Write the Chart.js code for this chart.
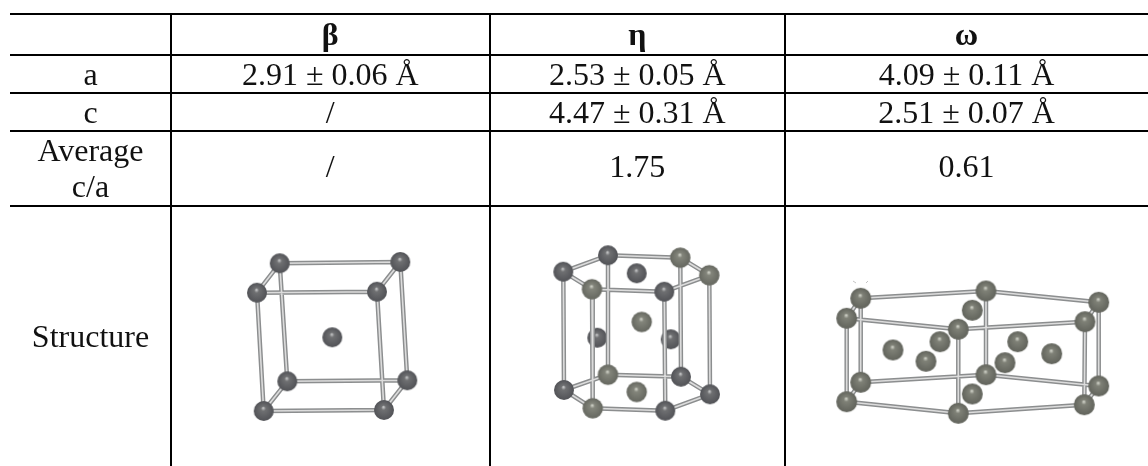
<!DOCTYPE html>
<html lang="en">
<head>
    <meta charset="UTF-8">
    <title>Structure table</title>
    <style>
        html, body { margin: 0; padding: 0; background: #fff; overflow: hidden; }
        canvas { display: block; }
    </style>
</head>
<body>
    <canvas id="myChart" width="1148" height="466"></canvas>
    <script src="https://cdn.jsdelivr.net/npm/chart.js"></script>
    <script>
        // table text
        var rowLabels = ["", "a", "c", "Average\nc/a", "Structure"];
        var betaColumn = ["β", "2.91 ± 0.06 Å", "/", "/", ""];
        var etaColumn = ["η", "2.53 ± 0.05 Å", "4.47 ± 0.31 Å", "1.75", ""];
        var omegaColumn = ["ω", "4.09 ± 0.11 Å", "2.51 ± 0.07 Å", "0.61", ""];

        // table rules
        var columnEdges = [171, 489.5, 785];
        var rowEdges = [14, 54.5, 93, 130.5, 205.5];

        // atoms of the three cells
        var betaAtoms = [
            [279.7, 263.3], [400.3, 262], [377, 291.7], [257, 292.7],
            [287.3, 381.3], [407.3, 380.3], [384, 410], [263.7, 411],
            [332.3, 337.3]
        ];
        var betaBonds = [[0, 1], [1, 2], [2, 3], [3, 0], [4, 5], [5, 6], [6, 7], [7, 4], [0, 4], [1, 5], [2, 6], [3, 7]];

        var etaAtoms = [
            [563.3, 271.7], [608, 255.3], [680.3, 257.7], [709.3, 275.3], [664.3, 291.7], [592, 289.3],
            [564, 390], [608, 374.7], [681, 376.7], [710, 394.3], [665.3, 410.7], [592.7, 408.3],
            [636.7, 273.3], [641.7, 322], [636.7, 392], [597.3, 337.7], [670.7, 339.3]
        ];
        var etaOlive = [2, 3, 5, 7, 11, 13, 14];
        var etaBehind = [15, 16];

        var omegaAtoms = [
            [860.7, 298.3], [986, 291], [1098.7, 302.3], [1085, 321.7], [958.3, 329.3], [846.7, 318.3],
            [860.7, 382.3], [986, 374.7], [1098.7, 386], [1084.3, 404.7], [958.3, 413.3], [846.7, 401.7],
            [972.3, 310.3], [940, 341.7], [893, 350], [926, 361.3], [1017.7, 341.7], [1005, 362.7], [1051.7, 353.7], [972.3, 394]
        ];

        // both hexagonal cells share the same wiring
        var hexBonds = [
            [0, 1], [1, 2], [2, 3], [3, 4], [4, 5], [5, 0],
            [6, 7], [7, 8], [8, 9], [9, 10], [10, 11], [11, 6],
            [0, 6], [1, 7], [2, 8], [3, 9], [4, 10], [5, 11]
        ];

        // little stray mark above the omega cell
        var strayMark = [[853, 281], [856, 283], null, [866, 283], [868, 281]];

        function toPoints(list) {
            return list.map(function (p) {
                return p ? { x: p[0], y: p[1] } : { x: null, y: null };
            });
        }

        function bondPoints(atoms, bonds) {
            var pts = [];
            bonds.forEach(function (b) {
                pts.push(atoms[b[0]], atoms[b[1]], null);
            });
            return toPoints(pts);
        }

        function pick(atoms, indexes) {
            return toPoints(indexes.map(function (i) { return atoms[i]; }));
        }

        function rest(atoms, skip) {
            var out = [];
            atoms.forEach(function (a, i) {
                if (skip.indexOf(i) < 0) out.push(a);
            });
            return toPoints(out);
        }

        // shiny ball used as point style
        function sphere(radius, light, mid, dark) {
            var size = Math.ceil(radius * 2) + 2;
            var c = document.createElement("canvas");
            c.width = size;
            c.height = size;
            var ctx = c.getContext("2d");
            var m = size / 2;
            var g = ctx.createRadialGradient(m - radius * 0.05, m - radius * 0.3, radius * 0.03, m, m, radius);
            g.addColorStop(0, light);
            g.addColorStop(0.22, mid);
            g.addColorStop(0.9, dark);
            g.addColorStop(1, dark);
            ctx.fillStyle = g;
            ctx.beginPath();
            ctx.arc(m, m, radius, 0, Math.PI * 2);
            ctx.fill();
            return c;
        }

        var darkBall = sphere(10, "#c4c5c6", "#6f7072", "#55565a");
        var oliveBall = sphere(10.2, "#d0d2c8", "#83857b", "#696b63");
        var bigOliveBall = sphere(10.5, "#d0d2c8", "#7f8177", "#65675f");

        function atomSet(points, ball, order) {
            return {
                data: points,
                showLine: false,
                pointStyle: ball,
                pointRadius: 10,
                order: order
            };
        }

        function bondSet(points, color, width, order) {
            return {
                data: points,
                showLine: true,
                spanGaps: false,
                borderColor: color,
                borderWidth: width,
                borderCapStyle: "butt",
                pointRadius: 0,
                order: order
            };
        }

        var etaPlain = etaOlive.concat(etaBehind);
        var allBonds = bondPoints(betaAtoms, betaBonds)
            .concat(bondPoints(etaAtoms, hexBonds))
            .concat(bondPoints(omegaAtoms, hexBonds));

        var datasets = [
            atomSet(toPoints(betaAtoms), darkBall, 0),
            atomSet(rest(etaAtoms, etaPlain), darkBall, 0),
            atomSet(pick(etaAtoms, etaOlive), oliveBall, 0),
            atomSet(toPoints(omegaAtoms), bigOliveBall, 0),
            bondSet(allBonds, "#dcdcdc", 1.6, 1),
            bondSet(allBonds, "#8c8e8f", 4.5, 2),
            atomSet(pick(etaAtoms, etaBehind), darkBall, 3),
            bondSet(toPoints(strayMark), "#c4c4c4", 1, 4)
        ];

        var tableText = {
            id: "tableText",
            afterDraw: function (chart) {
                var ctx = chart.ctx;
                var xs = chart.scales.x;
                var ys = chart.scales.y;
                var colBounds = [xs.min].concat(columnEdges, [xs.max]);
                var rowBounds = rowEdges.concat([ys.max]);
                var columns = [rowLabels, betaColumn, etaColumn, omegaColumn];

                ctx.save();
                ctx.fillStyle = "#111";
                ctx.textAlign = "center";
                ctx.textBaseline = "alphabetic";
                columns.forEach(function (col, c) {
                    var cx = xs.getPixelForValue((colBounds[c] + colBounds[c + 1]) / 2);
                    col.forEach(function (text, r) {
                        if (!text) return;
                        var cy = ys.getPixelForValue((rowBounds[r] + rowBounds[r + 1]) / 2);
                        var lines = text.split("\n");
                        ctx.font = (r === 0 ? "bold " : "") + "32px 'Liberation Serif'";
                        lines.forEach(function (line, i) {
                            var y = cy + 11 + (i - (lines.length - 1) / 2) * 36.7;
                            if (r === 3 && lines.length === 1) y -= 2;
                            ctx.fillText(line, cx, y);
                        });
                    });
                });
                ctx.restore();
            }
        };

        new Chart(document.getElementById("myChart"), {
            type: "scatter",
            data: { datasets: datasets },
            plugins: [tableText],
            options: {
                responsive: false,
                animation: false,
                devicePixelRatio: 1,
                layout: { autoPadding: false, padding: { left: 10, top: 14, right: 0, bottom: 0 } },
                plugins: { legend: { display: false }, tooltip: { enabled: false } },
                scales: {
                    x: {
                        type: "linear",
                        min: 10,
                        max: 1148,
                        afterBuildTicks: function (scale) {
                            scale.ticks = columnEdges.map(function (v) { return { value: v }; });
                        },
                        ticks: { display: false, autoSkip: false },
                        border: { display: false },
                        grid: { color: "#000", lineWidth: 2, drawTicks: false }
                    },
                    y: {
                        type: "linear",
                        reverse: true,
                        min: 14,
                        max: 466,
                        afterBuildTicks: function (scale) {
                            scale.ticks = rowEdges.map(function (v) { return { value: v }; });
                        },
                        ticks: { display: false, autoSkip: false },
                        border: { display: false },
                        grid: { color: "#000", lineWidth: 2, drawTicks: false }
                    }
                }
            }
        });
    </script>
</body>
</html>
